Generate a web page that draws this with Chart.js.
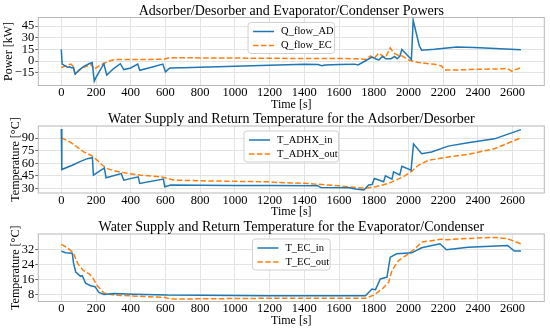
<!DOCTYPE html>
<html><head><meta charset="utf-8">
<script src="https://cdn.jsdelivr.net/npm/chart.js@4"></script>
<style>
body{margin:0;background:#fff;width:550px;height:332px;overflow:hidden;position:relative;}
canvas{position:absolute;left:0;}
</style>
</head><body>
<canvas id="c1" width="550" height="112" style="top:0px"></canvas>
<canvas id="c2" width="550" height="109" style="top:110px"></canvas>
<canvas id="c3" width="550" height="108" style="top:220px"></canvas>
<script>
// ---------- data ----------
const xTicks = [0,200,400,600,800,1000,1200,1400,1600,1800,2000,2200,2400,2600];
const yTicksPower = [-15,0,15,30,45];
const yTicksADHX = [30,45,60,75,90];
const yTicksEC = [8,16,24,32];

const tQflowAD = [0,5,20,35,50,60,70,80,100,130,160,178,190,200,245,262,300,340,360,400,440,452,520,585,600,625,700,800,1000,1200,1400,1480,1500,1520,1600,1690,1710,1750,1790,1810,1830,1850,1870,1900,1920,1935,1950,1962,2017,2027,2062,2076,2150,2280,2380,2500,2648];
const qflowAD = [15,-4,-6,-8,-7.5,-9,-8,-17,-12,-7,-3.5,-2,-26,-21,-3.5,-18,-10,-3.5,-11,-9,-4,-12,-8,-4,-14,-9,-8.5,-8,-6.8,-5.3,-4.3,-4.5,-6,-5,-4.5,-4,-5,0,5,3,1.5,6,3,3,6,3,6,15,2,52.5,20,14,15,18,17.5,16,14.5];

const tQflowEC = [0,8,25,55,65,80,121,160,173,188,227,256,275,313,400,592,621,800,1000,1200,1400,1600,1700,1752,1781,1800,1829,1867,1895,1914,1940,1960,2000,2057,2152,2190,2210,2280,2381,2552,2570,2594,2648];
const qflowEC = [-8,-8,-6,-4,-6,-17,-8.5,-5.5,-4.3,-10.5,-5,-2,0,2,2,2.2,4.3,4,3.8,3.5,3.3,3.2,3,2,6.4,3,10,4.3,17,10.5,7.5,7,1.3,-2,-4.3,-6.4,-11.5,-11.5,-10.7,-10,-9.5,-13,-8.5];

const tADHXin = [0,3,63,111,150,179,185,248,258,345,360,443,452,588,596,631,800,1000,1200,1476,1495,1657,1695,1743,1771,1790,1804,1857,1867,1905,1914,1950,1962,2015,2029,2076,2133,2229,2343,2495,2648];
const ADHXin = [101,52.5,57.6,62.3,65.5,66.7,45.7,54.4,42.6,47.7,39.8,43.8,35.8,41,31.9,33.9,33.6,33.3,33.4,33.2,31,30.8,29.1,28,34,34.5,41.8,37.8,45,41,49.7,46,56.4,51.7,83.3,71.4,73.4,80.5,84.5,89.2,100.3];

const tADHXout = [0,54,92,131,165,179,208,237,265,304,362,458,535,592,650,804,1000,1188,1238,1400,1600,1752,1810,1886,1971,2019,2057,2114,2229,2343,2495,2648];
const ADHXout = [90.5,85,79.3,73.4,70.2,68.6,63.5,57.6,53.6,51,48.5,45.7,44.5,43,39.8,39,38.4,37.8,37,36,33,30,31.9,35.9,43.8,50.5,57.6,63.5,67.5,70.6,77.4,90.4];

const tECin = [0,25,63,70,83,111,121,140,169,194,217,246,304,419,612,1188,1752,1790,1810,1838,1876,1895,1933,2019,2076,2181,2219,2343,2571,2610,2648];
const ECin = [31.1,30.2,30,25,19.9,17.7,18,14,12.7,12.2,9.1,8,8.6,8.2,7.7,7.4,7.4,10.9,10.6,16.3,17.2,27.9,29.7,30.2,32.9,35,31.8,33.2,34.1,31.1,31.1];

const tECout = [0,35,69,96,127,160,179,208,246,304,515,592,631,1188,1752,1800,1848,1886,1905,1943,2000,2038,2076,2190,2220,2381,2495,2571,2648];
const ECout = [34.7,32.9,30.2,24.3,20.8,19,17.2,12.7,8.8,7.7,6.8,6.5,5.6,6,6,7.7,10.9,14.5,20.8,26.1,29.7,32.4,35.9,37.4,37.2,38,38.4,37.7,35];

// ---------- drawing ----------
const BLUE = '#1f77b4', ORANGE = '#ff7f0e';
const FONT = '"Liberation Serif","Times New Roman",serif';
Chart.defaults.font.family = FONT;
Chart.defaults.color = '#000';

const pts = (t, v) => t.map((x, i) => ({x: x, y: v[i]}));
const fmt = v => String(v).replace('-', '\u2212');

const deco = {
  id: 'deco',
  afterDatasetsDraw(chart, args, o) {
    const ctx = chart.ctx, a = chart.chartArea;
    ctx.save();
    ctx.strokeStyle = '#b8b8b8';
    ctx.lineWidth = 1;
    ctx.strokeRect(a.left, a.top, a.right - a.left, a.bottom - a.top);
    // legend
    ctx.font = '10.5px ' + FONT;
    const labels = chart.data.datasets.map(d => d.label);
    const tw = Math.max(...labels.map(l => ctx.measureText(l).width));
    const w = 34 + tw, h = 31;
    const x0 = (a.left + a.right) / 2 - w / 2, y0 = a.top + 5;
    ctx.beginPath();
    ctx.roundRect(x0, y0, w, h, 3);
    ctx.fillStyle = 'rgba(255,255,255,0.85)';
    ctx.fill();
    ctx.strokeStyle = '#d0d0d0';
    ctx.stroke();
    chart.data.datasets.forEach((d, i) => {
      const yy = y0 + 9 + i * 14;
      ctx.beginPath();
      ctx.setLineDash(d.borderDash || []);
      ctx.strokeStyle = d.borderColor;
      ctx.lineWidth = 1.5;
      ctx.moveTo(x0 + 5, yy);
      ctx.lineTo(x0 + 26, yy);
      ctx.stroke();
      ctx.setLineDash([]);
      ctx.fillStyle = '#000';
      ctx.textAlign = 'left';
      ctx.textBaseline = 'middle';
      ctx.fillText(d.label, x0 + 33, yy);
    });
    // title
    ctx.font = '14px ' + FONT;
    ctx.textAlign = 'center';
    ctx.textBaseline = 'alphabetic';
    ctx.fillStyle = '#000';
    ctx.fillText(o.title, (a.left + a.right) / 2, a.top - 3);
    ctx.restore();
  }
};

function makePanel(id, H, plotTop, plotBottom, title, yTitle, yTitlePad, yMin, yMax, yTicks, series) {
  const tickFont = {size: 12.5, family: FONT};
  const titleFont = {size: 12, family: FONT};
  new Chart(document.getElementById(id), {
    type: 'line',
    data: {datasets: series.map(s => ({
      label: s.label, data: s.data, borderColor: s.color, borderWidth: 1.5,
      borderDash: s.dash, pointRadius: 0, tension: 0, fill: false
    }))},
    options: {
      responsive: false, animation: false, devicePixelRatio: 1,
      layout: {padding: {top: plotTop, left: 0, right: 5.7, bottom: 0}},
      plugins: {legend: {display: false}, tooltip: {enabled: false}, deco: {title: title}},
      scales: {
        x: {
          type: 'linear', min: -132.5, max: 2782.5,
          afterBuildTicks: s => { s.ticks = xTicks.map(v => ({value: v})); },
          afterFit: s => { s.height = H - plotBottom; },
          ticks: {font: tickFont, color: '#000', padding: 0, maxRotation: 0, autoSkip: false, callback: fmt},
          grid: {color: '#e3e3e3', lineWidth: 1, drawTicks: false},
          border: {display: false},
          title: {display: true, text: 'Time [s]', font: titleFont, color: '#000', padding: 0}
        },
        y: {
          min: yMin, max: yMax,
          afterBuildTicks: s => { s.ticks = yTicks.map(v => ({value: v})); },
          afterFit: s => { s.width = 38.3; },
          ticks: {font: tickFont, color: '#000', padding: 1, autoSkip: false, callback: fmt},
          grid: {color: '#e3e3e3', lineWidth: 1, drawTicks: true, tickLength: 3, tickColor: '#666'},
          border: {display: false},
          title: {display: true, text: yTitle, font: titleFont, color: '#000', padding: {top: yTitlePad, bottom: 0}}
        }
      }
    },
    plugins: [deco]
  });
}

makePanel('c1', 112, 17.5, 85.5, 'Adsorber/Desorber and Evaporator/Condenser Powers', 'Power [kW]', 2, -31.5, 56, yTicksPower, [
  {label: 'Q_flow_AD', data: pts(tQflowAD, qflowAD), color: BLUE},
  {label: 'Q_flow_EC', data: pts(tQflowEC, qflowEC), color: ORANGE, dash: [5.5, 2.4]}
]);
makePanel('c2', 109, 16, 83, 'Water Supply and Return Temperature for the Adsorber/Desorber', 'Temperature [°C]', 8.5, 24.4, 104.6, yTicksADHX, [
  {label: 'T_ADHX_in', data: pts(tADHXin, ADHXin), color: BLUE},
  {label: 'T_ADHX_out', data: pts(tADHXout, ADHXout), color: ORANGE, dash: [5.5, 2.4]}
]);
makePanel('c3', 108, 14, 81.5, 'Water Supply and Return Temperature for the Evaporator/Condenser', 'Temperature [°C]', 8.5, 4.3, 40.2, yTicksEC, [
  {label: 'T_EC_in', data: pts(tECin, ECin), color: BLUE},
  {label: 'T_EC_out', data: pts(tECout, ECout), color: ORANGE, dash: [5.5, 2.4]}
]);
</script>
</body></html>
